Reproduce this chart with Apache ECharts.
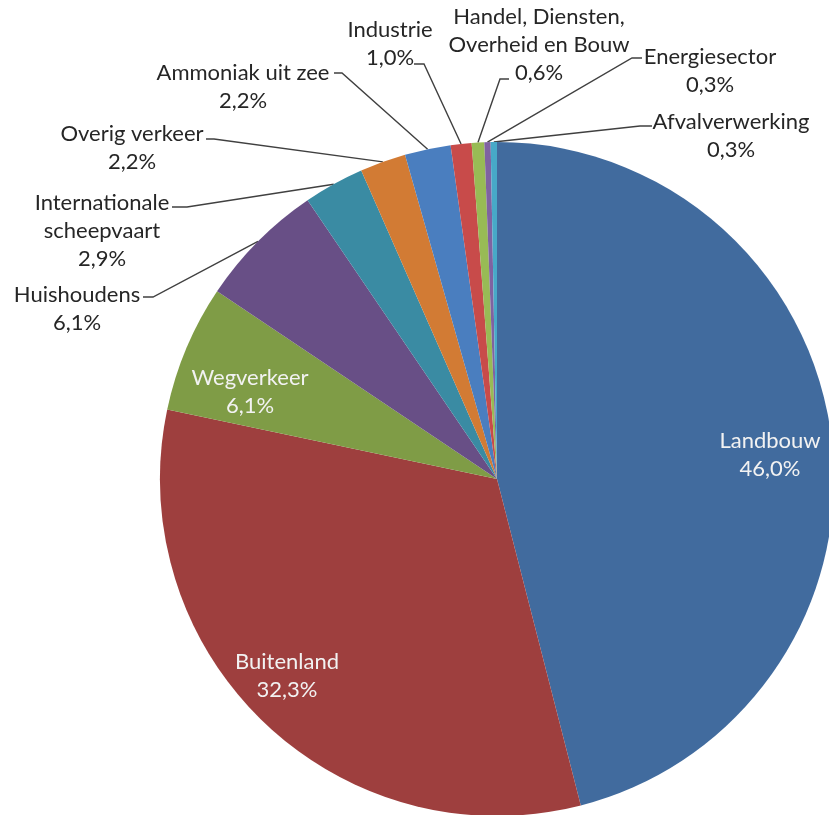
<!DOCTYPE html>
<html>
<head>
<meta charset="utf-8">
<script src="https://cdn.jsdelivr.net/npm/echarts@6/dist/echarts.min.js"></script>
<style>
  html, body { margin: 0; padding: 0; background: #ffffff; }
  #chart { width: 829px; height: 815px; }
</style>
</head>
<body>
<div id="chart"></div>
<script>
// ---- data ----
const categories = [
  'Landbouw', 'Buitenland', 'Wegverkeer', 'Huishoudens',
  'Internationale\nscheepvaart', 'Overig verkeer', 'Ammoniak uit zee',
  'Industrie', 'Handel, Diensten,\nOverheid en Bouw', 'Energiesector', 'Afvalverwerking'
];
const values = [46.0, 32.3, 6.1, 6.1, 2.9, 2.2, 2.2, 1.0, 0.6, 0.3, 0.3];

// ---- style ----
const colors = ['#416B9E', '#9E3F3E', '#7F9C46', '#684F86', '#3A8BA3', '#D27B34',
                '#4A7EBF', '#C84B4A', '#98BB55', '#7F63A1', '#47A9C8'];
const insideIdx = [0, 1, 2];
const CX = 497, CY = 479, R = 337;
// label block centres and leader anchor points (label side)
const labelPos = [
  {x: 770, y: 455},
  {x: 287, y: 676},
  {x: 250, y: 392},
  {x: 77,  y: 309, a: [[143, 297], [153, 297]]},
  {x: 102, y: 231, a: [[172, 207], [187, 207]]},
  {x: 132, y: 148, a: [[206, 139], [214, 139]]},
  {x: 243, y: 87,  a: [[334, 73], [342, 73]]},
  {x: 390, y: 44,  a: [[414, 64], [424, 64]]},
  {x: 539, y: 45,  a: [[509, 79], [500, 79]]},
  {x: 710, y: 71,  a: [[642, 58], [632, 58]]},
  {x: 731, y: 136, a: [[652, 126], [640, 126]]}
];

const total = values.reduce((s, v) => s + v, 0);
const midAngles = [];
let acc = 0;
values.forEach(v => { midAngles.push((acc + v / 2) / total * 2 * Math.PI); acc += v; });

const fmt = v => v.toFixed(1).replace('.', ',') + '%';

const seriesData = categories.map((name, i) => {
  const inside = insideIdx.includes(i);
  return {
    name: name,
    value: values[i],
    itemStyle: { color: colors[i] },
    label: {
      position: inside ? 'inside' : 'outside',
      color: inside ? '#F2F2F2' : '#262626'
    },
    labelLine: { show: !inside }
  };
});

const chart = echarts.init(document.getElementById('chart'), null, { renderer: 'canvas' });
chart.setOption({
  backgroundColor: '#ffffff',
  animation: false,
  series: [{
    type: 'pie',
    center: [CX, CY],
    radius: R,
    startAngle: 90,
    clockwise: true,
    avoidLabelOverlap: false,
    data: seriesData,
    itemStyle: { borderWidth: 0 },
    emphasis: { disabled: true },
    label: {
      show: true,
      fontFamily: 'Lato',
      fontSize: 22,
      lineHeight: 28,
      align: 'center',
      formatter: p => p.name + '\n' + fmt(p.value)
    },
    labelLine: {
      show: true,
      lineStyle: { color: '#404040', width: 1.4 }
    },
    labelLayout: function (params) {
      const i = params.dataIndex;
      const L = labelPos[i];
      const out = { x: L.x, y: L.y, align: 'center', verticalAlign: 'middle' };
      if (L.a) {
        const ang = midAngles[i];
        const px = CX + R * Math.sin(ang);
        const py = CY - R * Math.cos(ang);
        out.labelLinePoints = [[px, py], L.a[1], L.a[0]];
      }
      return out;
    }
  }]
});
</script>
</body>
</html>
